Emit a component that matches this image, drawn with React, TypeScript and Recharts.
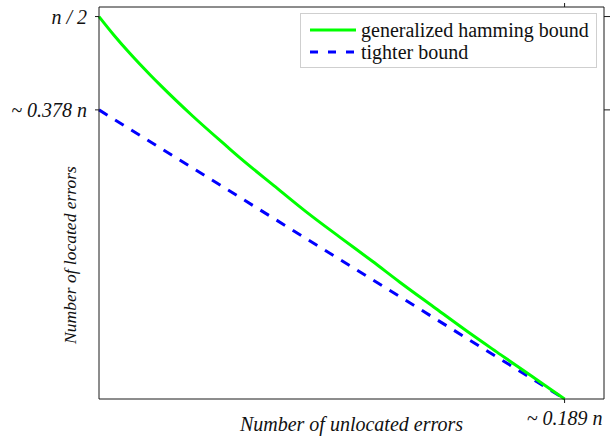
import React from 'react';
import { LineChart, Line, XAxis, YAxis, Legend } from 'recharts';

// fraction of unlocated errors (x) vs fraction of located errors (y), in units of n
const hammingX = [0, 0.006, 0.0125, 0.021, 0.025, 0.038, 0.052, 0.057, 0.071, 0.084, 0.098, 0.111, 0.122, 0.136, 0.149, 0.163, 0.176, 0.189];
const hammingY = [0.5, 0.476, 0.452, 0.423, 0.41, 0.37, 0.33, 0.316, 0.279, 0.245, 0.211, 0.18, 0.153, 0.12, 0.0895, 0.058, 0.029, 0];
const tighterX = [0, 0.189];
const tighterY = [0.378, 0];

const xTicks = [0.189];
const yTicks = [0.5, 0.378];
const xTickLabels: Record<string, string> = { '0.189': '~ 0.189 n' };
const yTickLabels: Record<string, string> = { '0.5': 'n / 2', '0.378': '~ 0.378 n' };

const hammingData = hammingX.map((x, i) => ({ x, y: hammingY[i] }));
const tighterData = tighterX.map((x, i) => ({ x, y: tighterY[i] }));

const FONT = '"Liberation Serif", "Times New Roman", serif';
const AXIS = '#1a1a1a';
const tickStyle = { fontFamily: FONT, fontSize: 20, fontStyle: 'italic', fill: '#111' };

const LegendBox = () => (
    <div style={{ border: '1px solid #cfcfcf', background: '#fff', boxSizing: 'border-box', width: 297, height: 55, fontFamily: FONT, fontSize: 20, color: '#111', padding: '5px 0 0 9px' }}>
        <div style={{ display: 'flex', alignItems: 'center', height: 22 }}>
            <svg width={46} height={6} style={{ marginRight: 5 }}>
                <line x1={0} y1={3} x2={46} y2={3} stroke="#00ff00" strokeWidth={3} />
            </svg>
            <span style={{ fontFamily: FONT }}>generalized hamming bound</span>
        </div>
        <div style={{ display: 'flex', alignItems: 'center', height: 22 }}>
            <svg width={46} height={6} style={{ marginRight: 5 }}>
                <line x1={0} y1={3} x2={46} y2={3} stroke="#0000ff" strokeWidth={3} strokeDasharray="8 10" />
            </svg>
            <span style={{ fontFamily: FONT }}>tighter bound</span>
        </div>
    </div>
);

const YLabel = () => (
    <text x={72} y={255} transform="rotate(-90, 72, 255)" textAnchor="middle" dominantBaseline="middle"
        style={{ fontFamily: FONT, fontSize: 17.5, fontStyle: 'italic', fill: '#111' }}>
        Number of located errors
    </text>
);

const App: React.FC = () => {
    return (
        <div style={{ position: 'absolute', left: 0, top: 0 }}>
            <LineChart width={613} height={436} margin={{ top: 6, right: 8, bottom: 0, left: 0 }}>
                <XAxis dataKey="x" type="number" domain={[0, 0.205]} ticks={xTicks} interval={0}
                    height={37} stroke={AXIS} tickSize={4} tickMargin={8} tick={tickStyle}
                    tickFormatter={(v: number) => xTickLabels[String(v)] ?? ''}
                    label={{ value: 'Number of unlocated errors', position: 'insideBottom', offset: 5, style: { fontFamily: FONT, fontSize: 20, fontStyle: 'italic', fill: '#111' } }} />
                <XAxis xAxisId="top" orientation="top" dataKey="x" type="number" domain={[0, 0.205]} ticks={xTicks}
                    interval={0} height={1} stroke={AXIS} tickSize={4} tickFormatter={() => ''} />
                <YAxis type="number" domain={[0, 0.5125]} ticks={yTicks} interval={0} width={99}
                    stroke={AXIS} tickSize={4} tickMargin={8} tick={tickStyle}
                    tickFormatter={(v: number) => yTickLabels[String(v)] ?? ''}
                    label={{ content: () => <YLabel /> }} />
                <YAxis yAxisId="right" orientation="right" type="number" domain={[0, 0.5125]} ticks={yTicks}
                    interval={0} width={1} stroke={AXIS} tickSize={6} tickFormatter={() => ''} />
                <Legend layout="horizontal" verticalAlign="middle" content={() => <LegendBox />}
                    wrapperStyle={{ left: 300, top: 13, width: 297, height: 55 }} />
                {/* invisible copy so the mirrored top/right axes get drawn */}
                <Line data={tighterData} dataKey="y" xAxisId="top" yAxisId="right" stroke="none"
                    dot={false} activeDot={false} isAnimationActive={false} legendType="none" />
                <Line data={tighterData} dataKey="y" type="linear" stroke="#0000ff" strokeWidth={3}
                    strokeDasharray="10 9" dot={false} isAnimationActive={false} legendType="none" />
                <Line data={hammingData} dataKey="y" type="monotone" stroke="#00ff00" strokeWidth={3}
                    dot={false} isAnimationActive={false} legendType="none" />
            </LineChart>
        </div>
    );
};

export default App;
